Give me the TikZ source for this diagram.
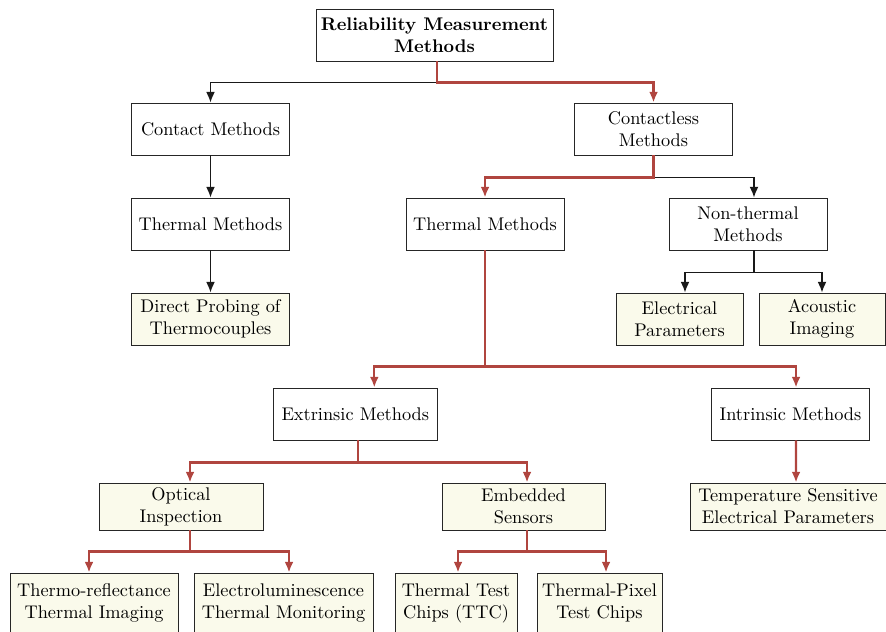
\documentclass[tikz,border=0pt]{standalone}
\usetikzlibrary{arrows.meta}
\definecolor{pathred}{HTML}{B0453F}
\definecolor{leafyellow}{HTML}{FAFAEB}
\newcommand\pxlen{0.546pt}
\tikzset{>={Latex[length=5.8pt,width=4.8pt]}}
\tikzset{
  method/.style = {draw=black!85, line width=0.5pt, align=center, inner sep=1pt,
    minimum width=158*\pxlen, minimum height=52*\pxlen},
  leaf/.style = {method, fill=leafyellow},
  link/.style = {->, line width=0.7pt, black!90},
  redlink/.style = {->, line width=1.2pt, pathred}
}

\begin{document}
\begin{tikzpicture}[x=\pxlen,y=-\pxlen]
  \useasboundingbox (0,0) rectangle (886,631);
  % top levels
  \node[method, minimum width=237*\pxlen] (root) at (434.5,35) {\bfseries Reliability Measurement\\\bfseries Methods};
  \node[method] (contact) at (210.5,129) {Contact Methods};
  \node[method] (contactless) at (653.5,129) {Contactless\\Methods};
  \node[method] (thermA) at (210.5,224) {Thermal Methods};
  \node[method] (thermB) at (485,224) {Thermal Methods};
  \node[method] (nonthermal) at (748,224) {Non-thermal\\Methods};
  % third row
  \node[leaf] (probing) at (210.5,319) {Direct Probing of\\Thermocouples};
  \node[leaf, minimum width=127*\pxlen] (electrical) at (679.5,319) {Electrical\\Parameters};
  \node[leaf, minimum width=126*\pxlen] (acoustic) at (822,319) {Acoustic\\Imaging};
  \node[method, minimum width=164*\pxlen] (extrinsic) at (355.3,414) {Extrinsic Methods};
  \node[method] (intrinsic) at (790.5,414) {Intrinsic Methods};
  % fourth row
  \node[leaf, minimum width=164*\pxlen, minimum height=47*\pxlen] (optical) at (181,506.5) {Optical\\Inspection};
  \node[leaf, minimum width=163*\pxlen, minimum height=47*\pxlen] (embedded) at (523.5,506.5) {Embedded\\Sensors};
  \node[leaf, minimum width=196*\pxlen, minimum height=47*\pxlen] (tsep) at (788,506.5) {Temperature Sensitive\\Electrical Parameters};
  % bottom row
  \node[leaf, minimum width=168*\pxlen, minimum height=60*\pxlen] (reflect) at (94,603) {Thermo-reflectance\\Thermal Imaging};
  \node[leaf, minimum width=179*\pxlen, minimum height=60*\pxlen] (electrolum) at (283.5,603) {Electroluminescence\\Thermal Monitoring};
  \node[leaf, minimum width=122*\pxlen, minimum height=60*\pxlen] (ttc) at (456,603) {Thermal Test\\Chips (TTC)};
  \node[leaf, minimum width=125*\pxlen, minimum height=60*\pxlen] (pixel) at (599.5,603) {Thermal-Pixel\\Test Chips};

  % black connectors
  \draw[link] ([xshift=2.5*\pxlen]root.south) -- ++(0,21) -| (contact.north);
  \draw[link] (contact) -- (thermA);
  \draw[link] (thermA) -- (probing);
  \draw[link] (contactless.south) -- ++(0,22) -| ([xshift=6*\pxlen]nonthermal.north);
  \draw[link] ([xshift=6*\pxlen]nonthermal.south) -- ++(0,22) -| ([xshift=5.5*\pxlen]electrical.north);
  \draw[link] ([xshift=6*\pxlen]nonthermal.south) -- ++(0,22) -| (acoustic.north);
  % highlighted path
  \draw[redlink] ([xshift=2.5*\pxlen]root.south) -- ++(0,21) -| (contactless.north);
  \draw[redlink] (contactless.south) -- ++(0,22) -| (thermB.north);
  \draw[redlink] (thermB.south) -- ++(0,116) -| ([xshift=19*\pxlen]extrinsic.north);
  \draw[redlink] (thermB.south) -- ++(0,116) -| ([xshift=5.5*\pxlen]intrinsic.north);
  \draw[redlink] ([xshift=5.5*\pxlen]intrinsic.south) -- ([xshift=8*\pxlen]tsep.north);
  \draw[redlink] ([xshift=2.5*\pxlen]extrinsic.south) -- ++(0,22) -| ([xshift=9*\pxlen]optical.north);
  \draw[redlink] ([xshift=2.5*\pxlen]extrinsic.south) -- ++(0,22) -| ([xshift=3.5*\pxlen]embedded.north);
  \draw[redlink] ([xshift=9*\pxlen]optical.south) -- ++(0,21) -| ([xshift=-5*\pxlen]reflect.north);
  \draw[redlink] ([xshift=9*\pxlen]optical.south) -- ++(0,21) -| ([xshift=5.5*\pxlen]electrolum.north);
  \draw[redlink] ([xshift=3.5*\pxlen]embedded.south) -- ++(0,21) -| ([xshift=2*\pxlen]ttc.north);
  \draw[redlink] ([xshift=3.5*\pxlen]embedded.south) -- ++(0,21) -| ([xshift=6.5*\pxlen]pixel.north);
\end{tikzpicture}
\end{document}
